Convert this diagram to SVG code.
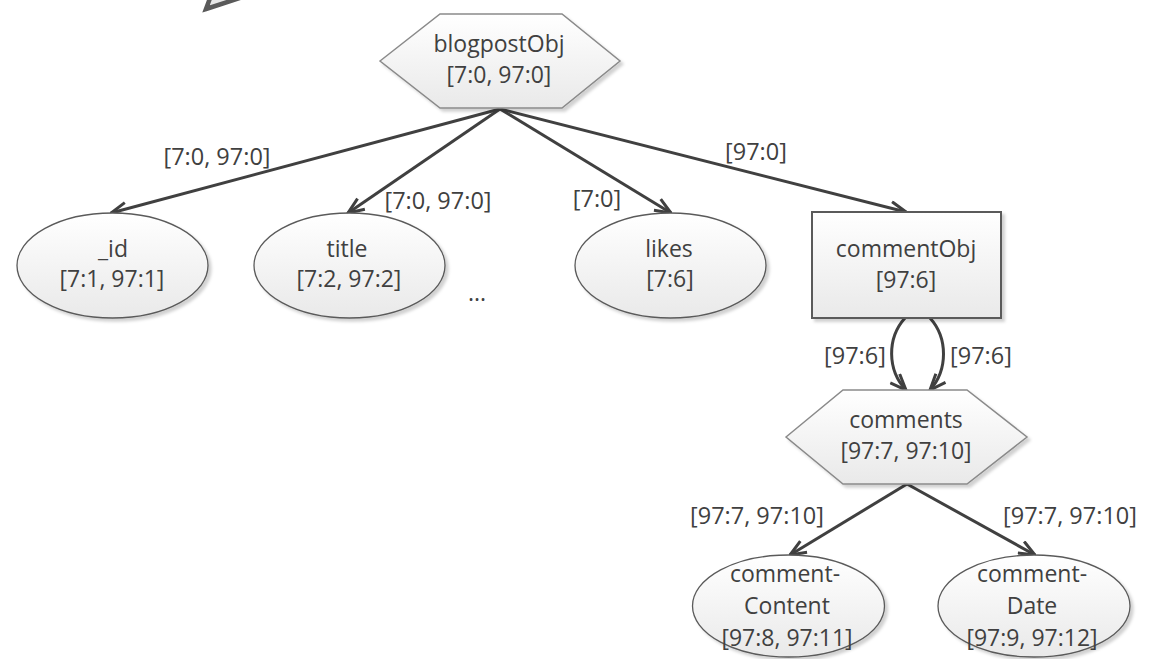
<svg xmlns="http://www.w3.org/2000/svg" width="1154" height="659" viewBox="0 0 1154 659">
  <defs>
    <linearGradient id="nodeFill" x1="0" y1="0" x2="0" y2="1">
      <stop offset="0" stop-color="#ffffff"/>
      <stop offset="1" stop-color="#e9e9e9"/>
    </linearGradient>
    <filter id="shadow" x="-10%" y="-10%" width="130%" height="130%">
      <feDropShadow dx="3" dy="3" stdDeviation="1.5" flood-color="#000000" flood-opacity="0.18"/>
    </filter>
    <marker id="arrow" markerUnits="userSpaceOnUse" viewBox="0 0 18 16" refX="17" refY="8" markerWidth="18" markerHeight="16" orient="auto">
      <path d="M1,1.5 L17,8 L1,14.5" fill="none" stroke="#404040" stroke-width="3" stroke-linejoin="miter"/>
    </marker>
    <style>
      .ell { fill: url(#nodeFill); stroke: #5a5a5a; stroke-width: 1.3; filter: url(#shadow); }
      .box { fill: url(#nodeFill); stroke: #5a5a5a; stroke-width: 2; filter: url(#shadow); }
      .hex { fill: url(#nodeFill); stroke: #8a8a8a; stroke-width: 1.5; filter: url(#shadow); }
      .edge { fill: none; stroke: #404040; stroke-width: 3; marker-end: url(#arrow); }
      text { font-family: "Open Sans", "Liberation Sans", sans-serif; fill: #404040; text-anchor: middle; }
      .nt { font-size: 23px; }
      .lt { font-size: 23.5px; }
    </style>
  </defs>
  <rect width="1154" height="659" fill="#ffffff"/>

  <g id="partial-arrow">
    <polygon points="206,9 252,-6 216,-18" fill="#e6e6e6" stroke="#5a5a5a" stroke-width="4.5" stroke-linejoin="miter"/>
  </g>

  <g id="connectors">
    <line class="edge" x1="500" y1="109" x2="111" y2="213"/>
    <line class="edge" x1="500" y1="109" x2="348" y2="213"/>
    <line class="edge" x1="500" y1="109" x2="671" y2="213"/>
    <line class="edge" x1="500" y1="109" x2="906" y2="212"/>
    <path class="edge" d="M905,318 C887,338 887,370 906,390"/>
    <path class="edge" d="M930,318 C948,338 948,370 930,390"/>
    <line class="edge" x1="907" y1="484" x2="790" y2="555"/>
    <line class="edge" x1="907" y1="484" x2="1035" y2="555"/>
    <text class="lt" x="217" y="165">[7:0, 97:0]</text>
    <text class="lt" x="438" y="209">[7:0, 97:0]</text>
    <text class="lt" x="597" y="207">[7:0]</text>
    <text class="lt" x="756" y="160">[97:0]</text>
    <text class="lt" x="855" y="364">[97:6]</text>
    <text class="lt" x="981" y="364">[97:6]</text>
    <text class="lt" x="757" y="524">[97:7, 97:10]</text>
    <text class="lt" x="1070" y="524">[97:7, 97:10]</text>
  </g>

  <g id="blogpostObj">
    <polygon class="hex" points="380,61 440,14 562,14 620,61 562,108 440,108"/>
    <text class="nt" x="499" y="52">blogpostObj</text>
    <text class="nt" x="499" y="83">[7:0, 97:0]</text>
  </g>

  <g id="id">
    <ellipse class="ell" cx="112.5" cy="265.5" rx="95.5" ry="52.5"/>
    <text class="nt" x="113" y="257">_id</text>
    <text class="nt" x="112" y="287">[7:1, 97:1]</text>
  </g>

  <g id="title">
    <ellipse class="ell" cx="349.5" cy="265.5" rx="95.5" ry="52.5"/>
    <text class="nt" x="347" y="257">title</text>
    <text class="nt" x="349" y="287">[7:2, 97:2]</text>
  </g>

  <g id="ellipsis">
    <text class="nt" x="477" y="301">...</text>
  </g>

  <g id="likes">
    <ellipse class="ell" cx="670.5" cy="265.5" rx="95.5" ry="52.5"/>
    <text class="nt" x="669" y="257">likes</text>
    <text class="nt" x="670" y="287">[7:6]</text>
  </g>

  <g id="commentObj">
    <rect class="box" x="812" y="212" width="189" height="106"/>
    <text class="nt" x="906" y="257">commentObj</text>
    <text class="nt" x="906" y="288">[97:6]</text>
  </g>

  <g id="comments">
    <polygon class="hex" points="786,437 843,390 967,390 1027,437 967,484 843,484"/>
    <text class="nt" x="906" y="428">comments</text>
    <text class="nt" x="906" y="459">[97:7, 97:10]</text>
  </g>

  <g id="commentContent">
    <ellipse class="ell" cx="788.5" cy="606" rx="96" ry="51"/>
    <text class="nt" x="785" y="582">comment-</text>
    <text class="nt" x="787" y="614">Content</text>
    <text class="nt" x="787" y="646">[97:8, 97:11]</text>
  </g>

  <g id="commentDate">
    <ellipse class="ell" cx="1034" cy="606" rx="96" ry="51"/>
    <text class="nt" x="1032" y="582">comment-</text>
    <text class="nt" x="1032" y="614">Date</text>
    <text class="nt" x="1032" y="646">[97:9, 97:12]</text>
  </g>
</svg>
